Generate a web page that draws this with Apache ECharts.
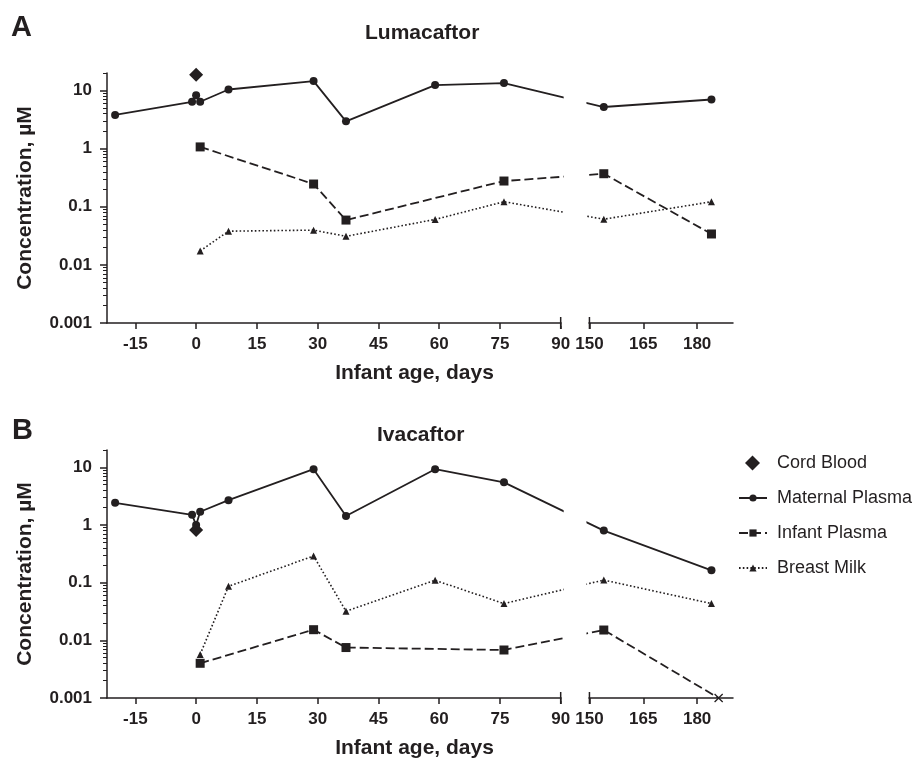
<!DOCTYPE html>
<html>
<head>
<meta charset="utf-8">
<title>Lumacaftor / Ivacaftor</title>
<script src="https://cdn.jsdelivr.net/npm/echarts@6/dist/echarts.min.js"></script>
<style>
  html, body { margin: 0; padding: 0; background: #fff; }
  #chart { width: 919px; height: 760px; }
</style>
</head>
<body>
<div id="chart"></div>
<script>
// infant age in days, concentration in µM
const cordDays = [0];
const maternalDays = [-20, -1, 0, 1, 8, 29, 37, 59, 76, 154, 184];
const milkDays = [1, 8, 29, 37, 59, 76, 154, 184];

// A: Lumacaftor
const lumaCord = [18.6];
const lumaMaternal = [3.8, 6.4, 8.3, 6.4, 10.4, 14.5, 2.95, 12.4, 13.4, 5.2, 7.0];
const lumaInfantDays = [1, 29, 37, 76, 154, 184];
const lumaInfant = [1.07, 0.246, 0.059, 0.277, 0.37, 0.034];
const lumaMilk = [0.0174, 0.038, 0.0396, 0.031, 0.0605, 0.122, 0.061, 0.122];

// B: Ivacaftor (last infant value is below LOQ, drawn as an x on the axis)
const ivaCord = [0.82];
const ivaMaternal = [2.43, 1.5, 1.0, 1.7, 2.7, 9.3, 1.43, 9.3, 5.5, 0.8, 0.164];
const ivaInfantDays = [1, 29, 37, 76, 154, 186];
const ivaInfant = [0.004, 0.0153, 0.0075, 0.0068, 0.0151, 0.001];
const ivaMilk = [0.0057, 0.0865, 0.29, 0.032, 0.11, 0.0434, 0.111, 0.0434];

const xTickDays = [-15, 0, 15, 30, 45, 60, 75, 90, 150, 165, 180];
const yTicks = [0.001, 0.01, 0.1, 1, 10];
const lineNames = ['Maternal Plasma', 'Infant Plasma', 'Breast Milk'];

const X_MIN = -22, X_END = 190;
const Y_MIN = 0.001, Y_MAX = 20;

// broken x axis: 90 .. 150 is cut out, the right part is a little tighter
const BREAK_FROM = 90, BREAK_TO = 150;
const BREAK_GAP = 7.1;
const RIGHT_SCALE = 0.886;
function toAxis(d) {
  return d <= BREAK_FROM ? d : BREAK_FROM + BREAK_GAP + (d - BREAK_TO) * RIGHT_SCALE;
}
function fromAxis(u) {
  return u <= BREAK_FROM + 0.5 ? u : BREAK_TO + (u - BREAK_FROM - BREAK_GAP) / RIGHT_SCALE;
}

// minor log ticks 2..9 of every decade
const yMinor = [];
yTicks.forEach(function (dec) {
  for (let k = 2; k <= 9; k++) {
    const v = +(dec * k).toPrecision(3);
    if (v <= Y_MAX) yMinor.push(v);
  }
});

const INK = '#231f20';
const FONT = "'Liberation Sans', Arial, Helvetica, sans-serif";
const X_MARK = 'path://M0,1L1,0L5,4L9,0L10,1L6,5L10,9L9,10L5,6L1,10L0,9L4,5Z';

const GRIDS = [
  { left: 107, top: 73, width: 626, height: 250 },
  { left: 107, top: 450, width: 626, height: 250 }
];

function pts(days, vals) {
  return days.map(function (d, i) { return [toAxis(d), vals[i]]; });
}

function xAxisFor(gi) {
  return {
    type: 'value', gridIndex: gi, min: X_MIN, max: toAxis(X_END),
    name: 'Infant age, days', nameLocation: 'middle', nameGap: 40,
    nameTextStyle: { fontSize: 21, fontWeight: 'bold', color: INK, fontFamily: FONT, padding: [0, 11, 0, 0] },
    axisLine: { onZero: false, lineStyle: { color: INK, width: 1.5 } },
    axisTick: { length: 6, customValues: xTickDays.map(toAxis), lineStyle: { color: INK, width: 1.5 } },
    axisLabel: {
      customValues: xTickDays.map(toAxis), margin: 13,
      fontSize: 17, fontWeight: 'bold', color: INK, fontFamily: FONT,
      formatter: function (v) { return String(Math.round(fromAxis(v))); }
    },
    splitLine: { show: false }
  };
}

function yAxesFor(gi) {
  return [{
    type: 'log', logBase: 10, gridIndex: gi, position: 'left', min: Y_MIN, max: Y_MAX,
    name: 'Concentration, µM', nameLocation: 'middle', nameGap: 71,
    nameTextStyle: { fontSize: 21, fontWeight: 'bold', color: INK, fontFamily: FONT },
    axisLine: { onZero: false, lineStyle: { color: INK, width: 1.5 } },
    axisTick: { length: 7, customValues: yTicks, lineStyle: { color: INK, width: 1.5 } },
    axisLabel: {
      customValues: yTicks, margin: 15,
      fontSize: 17, fontWeight: 'bold', color: INK, fontFamily: FONT,
      formatter: function (v) { return String(v); }
    },
    splitLine: { show: false }
  }, {
    type: 'log', logBase: 10, gridIndex: gi, position: 'left', min: Y_MIN, max: Y_MAX,
    axisLine: { show: false, onZero: false },
    axisTick: { length: 4, customValues: yMinor, lineStyle: { color: INK, width: 1 } },
    axisLabel: { show: false },
    splitLine: { show: false }
  }];
}

function line(name, gi, data, symbol, size, dash, width) {
  return {
    name: name, type: 'line', xAxisIndex: gi, yAxisIndex: gi * 2,
    data: data, symbol: symbol, symbolSize: size, showSymbol: true,
    lineStyle: { color: INK, width: width, type: dash },
    itemStyle: { color: INK, opacity: 1 },
    z: 3
  };
}

function cord(gi, vals) {
  return {
    name: 'Cord Blood', type: 'scatter', xAxisIndex: gi, yAxisIndex: gi * 2,
    data: pts(cordDays, vals), symbol: 'diamond', symbolSize: 14,
    itemStyle: { color: INK, opacity: 1 }, z: 5
  };
}

const ivaInfantData = pts(ivaInfantDays, ivaInfant);
ivaInfantData[ivaInfantData.length - 1] = {
  value: ivaInfantData[ivaInfantData.length - 1], symbol: X_MARK, symbolSize: 9
};

const series = [
  line('Maternal Plasma', 0, pts(maternalDays, lumaMaternal), 'circle', 8, 'solid', 1.8),
  line('Infant Plasma', 0, pts(lumaInfantDays, lumaInfant), 'rect', 9, [9, 4], 1.8),
  line('Breast Milk', 0, pts(milkDays, lumaMilk), 'triangle', 7, [1.6, 2.2], 1.6),
  cord(0, lumaCord),
  line('Maternal Plasma', 1, pts(maternalDays, ivaMaternal), 'circle', 8, 'solid', 1.8),
  line('Infant Plasma', 1, ivaInfantData, 'rect', 9, [9, 4], 1.8),
  line('Breast Milk', 1, pts(milkDays, ivaMilk), 'triangle', 7, [1.6, 2.2], 1.6),
  cord(1, ivaCord)
];

const titleStyle = { fontSize: 21, fontWeight: 'bold', color: INK, fontFamily: FONT };
const letterStyle = { fontSize: 29, fontWeight: 'bold', color: INK, fontFamily: FONT };
const legendText = { fontSize: 18, color: INK, fontFamily: FONT, padding: [0, 0, 0, 5] };

const chart = echarts.init(document.getElementById('chart'));
chart.setOption({
  animation: false,
  backgroundColor: '#fff',
  title: [
    { text: 'A', left: 11, top: 13, padding: 0, textStyle: letterStyle },
    { text: 'Lumacaftor', left: 365, top: 23, padding: 0, textStyle: titleStyle },
    { text: 'B', left: 12, top: 416, padding: 0, textStyle: letterStyle },
    { text: 'Ivacaftor', left: 377, top: 425, padding: 0, textStyle: titleStyle }
  ],
  legend: [{
    // the diamond gets its own square legend box so it is not stretched
    orient: 'vertical', left: 745, top: 454, padding: 0,
    itemWidth: 15, itemHeight: 15,
    selectedMode: false,
    data: [{ name: 'Cord Blood', icon: 'diamond' }],
    textStyle: { fontSize: 18, color: INK, fontFamily: FONT, padding: [0, 0, 0, 12] }
  }, {
    orient: 'vertical', left: 738, top: 489, padding: 0,
    itemWidth: 28, itemHeight: 9, itemGap: 17,
    selectedMode: false,
    data: lineNames,
    textStyle: legendText
  }],
  grid: GRIDS,
  xAxis: [xAxisFor(0), xAxisFor(1)],
  yAxis: yAxesFor(0).concat(yAxesFor(1)),
  series: series
});

// blank the cut between 90 and 150 and draw the break ends
const gapEls = [];
[0, 1].forEach(function (gi) {
  const x0 = chart.convertToPixel({ xAxisIndex: gi }, toAxis(BREAK_FROM));
  const x1 = chart.convertToPixel({ xAxisIndex: gi }, toAxis(BREAK_TO));
  const yTop = chart.convertToPixel({ yAxisIndex: gi * 2 }, Y_MAX);
  const yBot = chart.convertToPixel({ yAxisIndex: gi * 2 }, Y_MIN);
  gapEls.push({
    type: 'rect', z: 100, silent: true,
    shape: { x: x0 + 3, y: yTop - 2, width: x1 - x0 - 6, height: yBot - yTop - 1 },
    style: { fill: '#fff' }
  });
  gapEls.push({
    type: 'rect', z: 100, silent: true,
    shape: { x: x0 + 1, y: yBot - 3, width: x1 - x0 - 2, height: 6 },
    style: { fill: '#fff' }
  });
  [x0, x1].forEach(function (x) {
    gapEls.push({
      type: 'line', z: 101, silent: true,
      shape: { x1: x, y1: yBot - 6, x2: x, y2: yBot + 6 },
      style: { stroke: INK, lineWidth: 1.5 }
    });
  });
});
chart.setOption({ graphic: gapEls });
</script>
</body>
</html>
